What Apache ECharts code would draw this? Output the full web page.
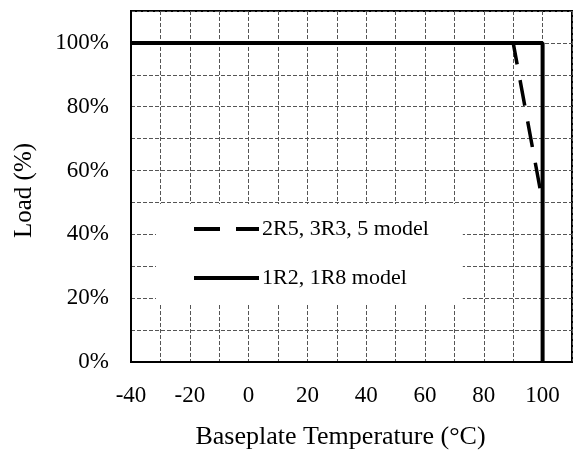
<!DOCTYPE html>
<html>
<head>
<meta charset="utf-8">
<script src="https://cdn.jsdelivr.net/npm/echarts@6/dist/echarts.min.js"></script>
<style>
html,body{margin:0;padding:0;background:#fff;}
#main{width:575px;height:455px;}
</style>
</head>
<body>
<div id="main"></div>
<script>
var seriesNames = ['2R5, 3R3, 5 model', '1R2, 1R8 model'];
var dashedData = [[-40, 100], [90, 100], [100, 50]];
var solidData = [[-40, 100], [100, 100], [100, 0]];
var xTickLabels = [-40, -20, 0, 20, 40, 60, 80, 100];
var yTickLabels = [0, 20, 40, 60, 80, 100];

var FONT = 'Liberation Serif';
var chart = echarts.init(document.getElementById('main'));
chart.setOption({
  animation: false,
  backgroundColor: '#fff',
  grid: {left: 131, right: 2, top: 11, bottom: 92, show: true, borderColor: '#000', borderWidth: 2, backgroundColor: 'transparent'},
  legend: {
    orient: 'vertical',
    left: 156, top: 204,
    padding: [14, 34, 16, 36],
    backgroundColor: '#fff',
    itemWidth: 65, itemHeight: 14, itemGap: 27,
    data: seriesNames,
    itemStyle: {opacity: 0, borderWidth: 0},
    lineStyle: {width: 4},
    textStyle: {fontFamily: FONT, fontSize: 22, color: '#000', padding: [0, 0, 0, -2]},
    selectedMode: false
  },
  xAxis: {
    type: 'value', min: -40, max: 110, interval: 10,
    name: 'Baseplate Temperature (°C)', nameLocation: 'middle', nameGap: 62,
    nameTextStyle: {fontFamily: FONT, fontSize: 26, color: '#000', padding: [0, 22, 0, 0]},
    axisLine: {show: true, onZero: false, lineStyle: {color: '#000', width: 2}},
    axisTick: {show: false},
    axisLabel: {fontFamily: FONT, fontSize: 23, color: '#000', margin: 22,
      formatter: function (v) { return xTickLabels.indexOf(v) >= 0 ? String(v) : ''; }},
    splitLine: {show: true, lineStyle: {color: '#555', width: 1, type: [4, 2]}}
  },
  yAxis: {
    type: 'value', min: 0, max: 110, interval: 10,
    name: 'Load (%)', nameLocation: 'middle', nameGap: 94,
    nameTextStyle: {fontFamily: FONT, fontSize: 25, color: '#000', padding: [0, 8, 0, 0]},
    axisLine: {show: true, onZero: false, lineStyle: {color: '#000', width: 2}},
    axisTick: {show: false},
    axisLabel: {fontFamily: FONT, fontSize: 23, color: '#000', margin: 22,
      formatter: function (v) { return yTickLabels.indexOf(v) >= 0 ? v + '%' : ''; }},
    splitLine: {show: true, lineStyle: {color: '#555', width: 1, type: [4, 2]}}
  },
  series: [
    {name: seriesNames[0], type: 'line', data: dashedData, symbol: 'none', z: 3,
     lineStyle: {color: '#000', width: 3.5, type: [26, 16]}, itemStyle: {color: '#000'}},
    {name: seriesNames[1], type: 'line', data: solidData, symbol: 'none', z: 4,
     lineStyle: {color: '#000', width: 4}, itemStyle: {color: '#000'}}
  ]
});
</script>
</body>
</html>
